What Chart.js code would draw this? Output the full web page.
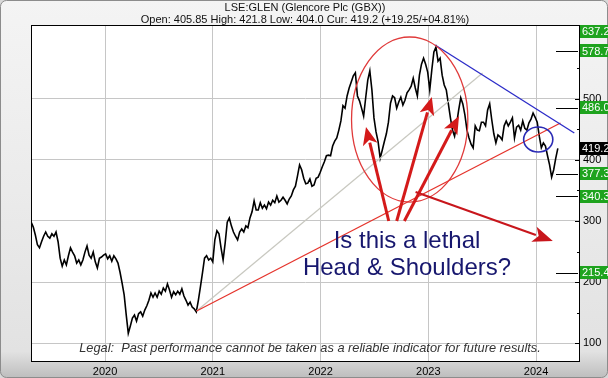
<!DOCTYPE html>
<html><head><meta charset="utf-8">
<script src="https://cdn.jsdelivr.net/npm/chart.js@4.4.1/dist/chart.umd.min.js"></script>
<style>html,body{margin:0;padding:0;background:#e4e4e4;overflow:hidden}canvas{display:block}</style>
</head><body>
<canvas id="c" width="608" height="378" style="width:608px;height:378px"></canvas>
<script>
// ---- data (weekly closes, GBX) ----
const firstWeek = '2019-04-26';
const close2019 = [298,290,277,261,256,266,275,282,275,272,279,275,282,266,239,226,236,228,243,256,249,243,231,236,228,236,249,259,244,239,249,233,223,239,241,244];
const close2020 = [246,238,243,234,243,238,231,216,198,179,146,116,128,141,146,136,148,151,144,154,161,170,182,175,182,175,185,180,190,185,197,187,175,184,179,185,180,189,177,170,162,167,159,156,151,170,192,215,239,243,236,239];
const close2021 = [233,269,284,279,256,236,264,298,305,292,282,275,269,282,287,282,292,289,305,315,333,318,318,330,321,326,320,331,326,334,330,341,331,334,339,334,328,336,341,351,357,374,392,384,370,361,362,369,357,359,370,372,380];
const close2022 = [389,397,407,408,407,423,431,436,449,464,489,485,505,518,528,538,543,505,497,485,472,502,531,546,515,469,446,430,403,416,430,443,462,493,505,502,485,495,503,490,498,510,515,521,534,518,505,539,557,567,557,544];
const close2023 = [515,548,577,585,562,567,539,523,515,492,469,449,439,459,482,502,492,474,449,436,426,420,456,449,448,462,462,456,482,492,466,443,428,441,438,433,456,464,456,462,469,436,454,457,449,464,452,449,461,467,477,470];
const close2024 = [462,439,420,428,423,407,392,372,384,403,419];

const yearTicks = [2020, 2021, 2022, 2023, 2024];
const priceLabels = [100, 200, 300, 400, 500];
const minorTicks = [150, 250, 350, 450, 550];
const targetLevels = ['637.2', '578.7', '486.0', '377.3', '340.3', '215.4'];
const currentLevel = '419.2';

const titleText = 'LSE:GLEN (Glencore Plc (GBX))';
const quoteText = 'Open: 405.85 High: 421.8 Low: 404.0 Cur: 419.2 (+19.25/+04.81%)';
const legalText = 'Legal:  Past performance cannot be taken as a reliable indicator for future results.';
const questionLines = ['Is this a lethal', 'Head & Shoulders?'];

// annotation anchors: [date, price]
const neckline = [['2020-11-07', 152.5], ['2024-03-24', 460.7]];
const greyTrend = [['2020-11-07', 152.5], ['2023-07-04', 542.6]];
const blueTrend = [['2023-01-24', 588.5], ['2024-05-10', 444.3]];
const bigEllipse = [['2022-04-16', 601.6], ['2023-05-15', 331.0]];
const smallCircle = [['2023-11-20', 454.1], ['2024-02-27', 413.1]];
const upArrows = [
  [['2022-08-20', 300], ['2022-06-04', 454.1]],
  [['2022-09-16', 300], ['2023-01-13', 503.3]],
  [['2022-10-12', 300], ['2023-04-15', 472.1]]
];
const targetArrow = [['2022-11-19', 347.5], ['2024-02-27', 267.2]];

// ---- helpers ----
function toYear(s){
  const d = new Date(s + 'T00:00:00Z');
  const y = d.getUTCFullYear();
  const a = Date.UTC(y,0,1), b = Date.UTC(y+1,0,1);
  return y + (d.getTime() - a) / (b - a);
}
const closes = [].concat(close2019, close2020, close2021, close2022, close2023, close2024);
const t0 = new Date(firstWeek + 'T00:00:00Z').getTime();
const series = closes.map((v,i) => {
  const d = new Date(t0 + i*7*86400000).toISOString().slice(0,10);
  return {x: toYear(d), y: v};
});

const FONT = '"Liberation Sans", Arial, sans-serif';

const deco = {
  id: 'deco',
  beforeDraw(chart){
    const ctx = chart.ctx, a = chart.chartArea, W = chart.width, H = chart.height;
    ctx.save();
    ctx.fillStyle = '#d8d8d8';
    ctx.fillRect(0,0,W,H);
    const g = ctx.createLinearGradient(0,0,0,H);
    g.addColorStop(0,'#f4f4f4'); g.addColorStop(0.5,'#ebebeb'); g.addColorStop(0.93,'#e2e2e2'); g.addColorStop(1,'#bdbdbd');
    ctx.fillStyle = g;
    ctx.beginPath(); ctx.roundRect(0.5,0.5,W-1,H-1,6); ctx.fill();
    ctx.strokeStyle = '#8c8c8c'; ctx.lineWidth = 1; ctx.stroke();
    ctx.fillStyle = '#ffffff';
    ctx.fillRect(a.left, a.top, a.right-a.left, a.bottom-a.top);
    ctx.restore();
  },
  afterDatasetsDraw(chart){
    const ctx = chart.ctx, a = chart.chartArea, sx = chart.scales.x, sy = chart.scales.y;
    const P = p => [sx.getPixelForValue(toYear(p[0])), sy.getPixelForValue(p[1])];
    ctx.save();
    ctx.beginPath(); ctx.rect(a.left, a.top, a.right-a.left, a.bottom-a.top); ctx.clip();
    const line = (pts, col, w) => {
      const p1 = P(pts[0]), p2 = P(pts[1]);
      ctx.strokeStyle = col; ctx.lineWidth = w;
      ctx.beginPath(); ctx.moveTo(p1[0],p1[1]); ctx.lineTo(p2[0],p2[1]); ctx.stroke();
    };
    line(greyTrend, '#c8c8c0', 1.2);
    line(neckline, '#e5342c', 1.3);
    line(blueTrend, '#2b2bc8', 1.3);
    const ell = (box, col, w) => {
      const p1 = P(box[0]), p2 = P(box[1]);
      ctx.strokeStyle = col; ctx.lineWidth = w;
      ctx.beginPath();
      ctx.ellipse((p1[0]+p2[0])/2, (p1[1]+p2[1])/2, Math.abs(p2[0]-p1[0])/2, Math.abs(p2[1]-p1[1])/2, 0, 0, Math.PI*2);
      ctx.stroke();
    };
    ell(bigEllipse, '#e03a3a', 1.3);
    ell(smallCircle, '#2a2ab4', 1.6);
    const arrow = (pts, col, w, hl, hw) => {
      const t = P(pts[0]), h = P(pts[1]);
      const dx = h[0]-t[0], dy = h[1]-t[1], L = Math.hypot(dx,dy), ux = dx/L, uy = dy/L;
      const bx = h[0]-ux*hl, by = h[1]-uy*hl;
      ctx.strokeStyle = col; ctx.lineWidth = w; ctx.lineCap = 'butt';
      ctx.beginPath(); ctx.moveTo(t[0],t[1]); ctx.lineTo(bx+ux*2,by+uy*2); ctx.stroke();
      ctx.fillStyle = col;
      ctx.beginPath(); ctx.moveTo(h[0],h[1]);
      ctx.lineTo(bx - uy*hw, by + ux*hw);
      ctx.lineTo(bx + ux*hl*0.25, by + uy*hl*0.25);
      ctx.lineTo(bx + uy*hw, by - ux*hw);
      ctx.closePath(); ctx.fill();
    };
    upArrows.forEach(ar => arrow(ar, '#d41a1a', 3, 18, 7.5));
    arrow(targetArrow, '#c8161c', 2, 20, 8);
    ctx.restore();
  },
  afterDraw(chart){
    const ctx = chart.ctx, a = chart.chartArea, sx = chart.scales.x, sy = chart.scales.y;
    ctx.save();
    // plot frame
    ctx.strokeStyle = '#000'; ctx.lineWidth = 1;
    ctx.strokeRect(Math.round(a.left)+0.5, Math.round(a.top)+0.5, Math.round(a.right-a.left)-1, Math.round(a.bottom-a.top));
    // y ticks (inward)
    ctx.beginPath();
    priceLabels.forEach(v => { const y = Math.round(sy.getPixelForValue(v))+0.5; ctx.moveTo(a.right-5,y); ctx.lineTo(a.right,y); });
    minorTicks.forEach(v => { const y = Math.round(sy.getPixelForValue(v))+0.5; ctx.moveTo(a.right-3,y); ctx.lineTo(a.right,y); });
    ctx.stroke();
    // target level markers
    ctx.beginPath();
    targetLevels.slice(1).forEach(s => { const y = Math.round(sy.getPixelForValue(parseFloat(s)))+0.5; ctx.moveTo(a.right-24,y); ctx.lineTo(a.right-2,y); });
    ctx.stroke();
    // axis labels
    ctx.font = '11px ' + FONT; ctx.textBaseline = 'middle'; ctx.textAlign = 'left'; ctx.fillStyle = '#000';
    priceLabels.forEach(v => ctx.fillText(String(v), a.right+3, sy.getPixelForValue(v)));
    // boxes
    const box = (s, bg) => {
      let y = sy.getPixelForValue(parseFloat(s));
      if (y - 6.5 < a.top) y = a.top + 6.5;
      ctx.fillStyle = bg; ctx.fillRect(a.right, Math.round(y-6.5), 40, 13);
      ctx.fillStyle = '#fff'; ctx.fillText(s, a.right+2, y+0.5);
    };
    targetLevels.forEach(s => box(s, '#1ea31e'));
    box(currentLevel, '#000');
    // years
    ctx.fillStyle = '#000'; ctx.textAlign = 'center';
    yearTicks.forEach(v => ctx.fillText(String(v), sx.getPixelForValue(v), a.bottom + 11));
    // titles
    ctx.fillStyle = '#111';
    ctx.fillText(titleText, 305, 8);
    ctx.fillText(quoteText, 305, 20);
    // legal
    ctx.font = 'italic 12.8px ' + FONT; ctx.fillStyle = '#333';
    ctx.fillText(legalText, 310, a.bottom - 13);
    // question
    ctx.font = '24px ' + FONT; ctx.fillStyle = '#17176e';
    ctx.fillText(questionLines[0], 407, 241);
    ctx.fillText(questionLines[1], 407, 268);
    ctx.restore();
  }
};

new Chart(document.getElementById('c'), {
  type: 'line',
  data: { datasets: [{ data: series, borderColor: '#000', borderWidth: 1.6, pointRadius: 0, tension: 0, fill: false }] },
  options: {
    responsive: false, animation: false, devicePixelRatio: 1,
    layout: { padding: { left: 31, top: 25, right: 0, bottom: 0 } },
    plugins: { legend: { display: false }, tooltip: { enabled: false } },
    scales: {
      x: { type: 'linear', min: 2019.313, max: 2024.408,
           afterBuildTicks: s => { s.ticks = yearTicks.map(v => ({value: v})); },
           afterFit: s => { s.height = 17; },
           ticks: { display: false }, border: { display: false },
           grid: { color: '#c6c6c6', drawTicks: false, lineWidth: 1 } },
      y: { position: 'right', min: 70.5, max: 621.3,
           afterBuildTicks: s => { s.ticks = priceLabels.map(v => ({value: v})); },
           afterFit: s => { s.width = 28; },
           ticks: { display: false }, border: { display: false },
           grid: { color: '#c6c6c6', drawTicks: false, lineWidth: 1 } }
    }
  },
  plugins: [deco]
});
</script>
</body></html>
